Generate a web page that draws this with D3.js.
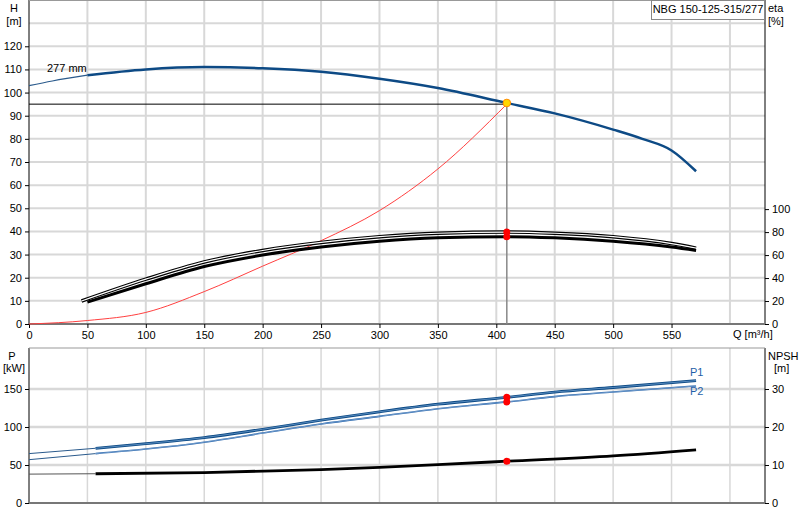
<!DOCTYPE html><html><head><meta charset="utf-8"><script src="https://cdn.jsdelivr.net/npm/d3@7"></script>
<style>body{margin:0;background:#fff}text{font-family:"Liberation Sans",Arial,sans-serif;font-size:11px}</style></head><body><svg id="c" width="800" height="520"></svg><script>
const xTicks=[0,50,100,150,200,250,300,350,400,450,500,550];
const hTicks=[0,10,20,30,40,50,60,70,80,90,100,110,120];
const etaTicks=[0,20,40,60,80,100];
const pTicks=[0,50,100,150];
const npshTicks=[0,10,20,30];
const headQ=[0,20,50,100,150,200,250,300,350,409,450,500,525,550,571];
const headH=[103,105,107.5,110,111,110.5,109,106,102,95.5,91,84,80,75,66];
const sysQ=[0,50,100,150,200,250,300,350,409];
const sysH=[0,1.5,5,14,25,36,49,67,95];
const eta1Q=[45,100,150,200,250,300,350,409,450,500,550,571];
const eta1=[20,39,54,64,71,76,79,80,79,76,70,66];
const eta2Q=[50,100,150,200,250,300,350,409,450,500,550,571];
const eta2=[19,35,50,60,67,72,75,76,75,72,67,64];
const pQ=[0,57,100,150,200,250,300,350,409,450,500,571];
const p1=[65,72,78,86,97,109,120,130,139,146,152,161];
const p2=[57,65,71,80,92,104,114,124,133,140,146,154];
const npQ=[0,57,150,250,300,350,409,500,571];
const npsh=[7.6,7.7,8.0,8.8,9.4,10.1,11.0,12.4,14.0];
const dutyQ=409, dutyH=95.5;

const svg=d3.select("#c");
const x=d3.scaleLinear().domain([0,630]).range([29,765]);
const yH=d3.scaleLinear().domain([0,140]).range([324,0]);
const yE=d3.scaleLinear().domain([0,282]).range([324,0]);
const yP=d3.scaleLinear().domain([0,200]).range([503,351]);
const yN=d3.scaleLinear().domain([0,40]).range([503,351]);
const grid="#d8d8d8";
const gTop=svg.append("g");
d3.range(50,650,50).forEach(q=>gTop.append("line").attr("x1",x(q)).attr("x2",x(q)).attr("y1",0).attr("y2",324).attr("stroke",grid).attr("stroke-width",2));
d3.range(10,150,10).forEach(h=>gTop.append("line").attr("x1",29).attr("x2",765).attr("y1",yH(h)).attr("y2",yH(h)).attr("stroke",grid).attr("stroke-width",2));
const gBot=svg.append("g");
d3.range(50,650,50).forEach(q=>gBot.append("line").attr("x1",x(q)).attr("x2",x(q)).attr("y1",348).attr("y2",503).attr("stroke",grid).attr("stroke-width",1.5));
[50,100,150].forEach(p=>gBot.append("line").attr("x1",29).attr("x2",765).attr("y1",yP(p)).attr("y2",yP(p)).attr("stroke",grid).attr("stroke-width",2.5));
svg.append("line").attr("x1",29).attr("x2",29).attr("y1",0).attr("y2",324).attr("stroke","#000");
svg.append("line").attr("x1",765).attr("x2",765).attr("y1",0).attr("y2",324).attr("stroke","#000");
svg.append("line").attr("x1",29).attr("x2",765).attr("y1",0.5).attr("y2",0.5).attr("stroke","#999");
svg.append("line").attr("x1",29).attr("x2",765).attr("y1",324).attr("y2",324).attr("stroke","#777").attr("stroke-width",2);
svg.append("line").attr("x1",29).attr("x2",29).attr("y1",348).attr("y2",503).attr("stroke","#000");
svg.append("line").attr("x1",765).attr("x2",765).attr("y1",348).attr("y2",503).attr("stroke","#000");
svg.append("line").attr("x1",29).attr("x2",765).attr("y1",348).attr("y2",348).attr("stroke","#999");
svg.append("line").attr("x1",29).attr("x2",765).attr("y1",503).attr("y2",503).attr("stroke","#777").attr("stroke-width",2);
svg.append("g").attr("transform","translate(29,0)").call(d3.axisLeft(yH).tickValues(hTicks).tickSize(4)).call(g=>g.select(".domain").remove());
svg.append("g").attr("transform","translate(765,0)").call(d3.axisRight(yE).tickValues(etaTicks).tickSize(4)).call(g=>g.select(".domain").remove());
svg.append("g").attr("transform","translate(0,324)").call(d3.axisBottom(x).tickValues(xTicks).tickSize(4)).call(g=>g.select(".domain").remove());
svg.append("g").attr("transform","translate(29,0)").call(d3.axisLeft(yP).tickValues(pTicks).tickSize(4)).call(g=>g.select(".domain").remove());
svg.append("g").attr("transform","translate(765,0)").call(d3.axisRight(yN).tickValues(npshTicks).tickSize(4)).call(g=>g.select(".domain").remove());
svg.selectAll(".tick text").attr("font-size",11).attr("font-family","Liberation Sans,Arial").attr("fill","#000");
const lab=(t,xx,yy,a)=>svg.append("text").attr("x",xx).attr("y",yy).attr("text-anchor",a||"start").text(t);
lab("H",14,12,"middle");lab("[m]",14,25,"middle");
lab("eta",768,12);lab("[%]",768,25);
lab("P",12,360,"middle");lab("[kW]",14,372,"middle");
lab("NPSH",768,360);lab("[m]",774,372);
lab("Q [m³/h]",733,338);
lab("277 mm",47,72);
svg.append("rect").attr("x",651.5).attr("y",0.5).attr("width",113).attr("height",19).attr("fill","#fff").attr("stroke","#888");
lab("NBG 150-125-315/277",708,13,"middle");
lab("P1",690,376).attr("fill","#1f5fa8");lab("P2",690,395).attr("fill","#1f5fa8");
const line=(qs,vs,ys)=>d3.line().curve(d3.curveMonotoneX).x((d,i)=>x(qs[i])).y((d,i)=>ys(vs[i]))(vs);
const path=(d,c,w)=>svg.append("path").attr("d",d).attr("fill","none").attr("stroke",c).attr("stroke-width",w);
svg.append("line").attr("x1",29).attr("x2",x(dutyQ)).attr("y1",yH(95)).attr("y2",yH(95)).attr("stroke","#000");
svg.append("line").attr("x1",x(dutyQ)).attr("x2",x(dutyQ)).attr("y1",yH(dutyH)).attr("y2",324).attr("stroke","#888").attr("stroke-width",1.5);
path(line(sysQ,sysH,yH),"#ff4040",1);
path(line(headQ.slice(0,3),headH.slice(0,3),yH),"#2a5a8c",1.2);
path(line(headQ.slice(2),headH.slice(2),yH),"#0d4a85",2.5);
path(line(eta1Q,eta1,yE),"#000",3.5);path(line(eta1Q,eta1,yE),"#fff",1.2);
path(line(eta2Q,eta2,yE),"#000",3);
path(line(pQ.slice(0,2),p1.slice(0,2),yP),"#2a5a8c",1);
path(line(pQ.slice(1),p1.slice(1),yP),"#0d4a85",2.8);path(line(pQ.slice(1),p1.slice(1),yP),"#6a9acc",0.8);
path(line(pQ.slice(0,2),p2.slice(0,2),yP),"#2a5a8c",1);
path(line(pQ.slice(1),p2.slice(1),yP),"#1f5fa8",1.6);path(line(pQ.slice(1),p2.slice(1),yP),"#b8d0ea",0.5);
path(line(npQ.slice(0,2),npsh.slice(0,2),yN),"#555",1);
path(line(npQ.slice(1),npsh.slice(1),yN),"#000",2.8);
const dot=(cy,c)=>svg.append("circle").attr("cx",x(dutyQ)).attr("cy",cy).attr("r",3.5).attr("fill",c);
dot(yE(80),"red");dot(yE(76),"red");dot(yP(139),"red");dot(yP(133),"red");dot(yN(11),"red");
svg.append("circle").attr("cx",x(dutyQ)).attr("cy",yH(dutyH)).attr("r",3.8).attr("fill","#ffd700").attr("stroke","#ff8c00");
</script></body></html>
